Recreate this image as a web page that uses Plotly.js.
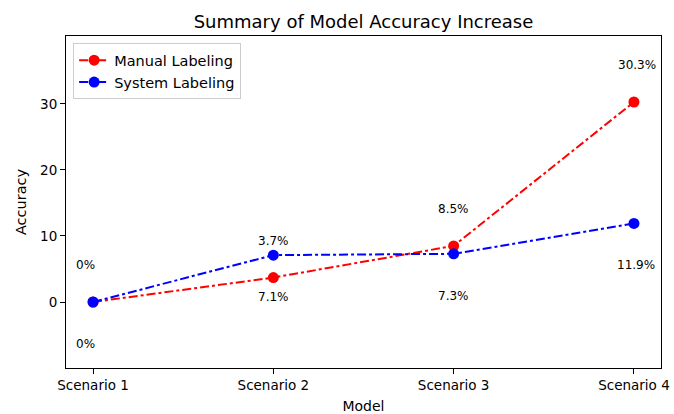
<!DOCTYPE html>
<html><head><meta charset="utf-8">
<script src="https://cdn.plot.ly/plotly-3.0.1.min.js"></script>
<style>body{margin:0;background:#fff}#chart{width:674px;height:414px}</style>
</head><body><div id="chart"></div>
<script>
const categories = ["Scenario 1", "Scenario 2", "Scenario 3", "Scenario 4"];
const manualValues = [0, 3.7, 8.5, 30.3];
const systemValues = [0, 7.1, 7.3, 11.9];
const manualLabels = ["0%", "3.7%", "8.5%", "30.3%"];
const systemLabels = ["0%", "7.1%", "7.3%", "11.9%"];

const xs = categories.map((c, i) => i);
const font = "DejaVu Sans, sans-serif";

const traces = [
  {x: xs, y: manualValues, name: "Manual Labeling", mode: "lines+markers",
   line: {color: "#ff0000", width: 2, dash: "dashdot"}, marker: {color: "#ff0000", size: 11}},
  {x: xs, y: systemValues, name: "System Labeling", mode: "lines+markers",
   line: {color: "#0000ff", width: 2, dash: "dashdot"}, marker: {color: "#0000ff", size: 11}}
];

const annotations = [];
manualLabels.forEach((t, i) => annotations.push({x: xs[i], y: manualValues[i], text: t, showarrow: false,
  yshift: 37, xshift: i === 0 ? -8 : (i === 3 ? 3 : 0), font: {family: font, size: 12, color: "#000"}}));
systemLabels.forEach((t, i) => annotations.push({x: xs[i], y: systemValues[i], text: t, showarrow: false,
  yshift: -42, xshift: i === 0 ? -8 : (i === 3 ? 2 : 0), font: {family: font, size: 12, color: "#000"}}));

const layout = {
  width: 674, height: 414,
  margin: {l: 66, r: 13, t: 36, b: 46},
  paper_bgcolor: "#fff", plot_bgcolor: "#fff",
  font: {family: font, size: 13, color: "#000"},
  title: {text: "Summary of Model Accuracy Increase", x: 0.5, xref: "paper", y: 0.948, yanchor: "middle",
          font: {family: font, size: 18, color: "#000"}},
  xaxis: {range: [-0.15, 3.15], tickvals: xs, ticktext: categories, showgrid: false, zeroline: false,
          showline: true, linecolor: "#000", linewidth: 1, mirror: true, ticks: "outside", ticklen: 5,
          tickcolor: "#000", tickfont: {family: font, size: 13.5},
          title: {text: "Model", standoff: 8, font: {family: font, size: 14}}},
  yaxis: {range: [-10, 40.3], tickvals: [0, 10, 20, 30], showgrid: false, zeroline: false,
          showline: true, linecolor: "#000", linewidth: 1, mirror: true, ticks: "outside", ticklen: 5,
          tickcolor: "#000", tickfont: {family: font, size: 13.5},
          title: {text: "Accuracy", standoff: 10, font: {family: font, size: 14.5}}},
  legend: {x: 0.012, y: 0.978, xanchor: "left", yanchor: "top", bgcolor: "#fff", bordercolor: "#ccc",
           borderwidth: 1, font: {family: font, size: 14.5}, itemwidth: 30},
  showlegend: true,
  annotations: annotations
};
Plotly.newPlot("chart", traces, layout, {displayModeBar: false, staticPlot: true});
</script></body></html>
